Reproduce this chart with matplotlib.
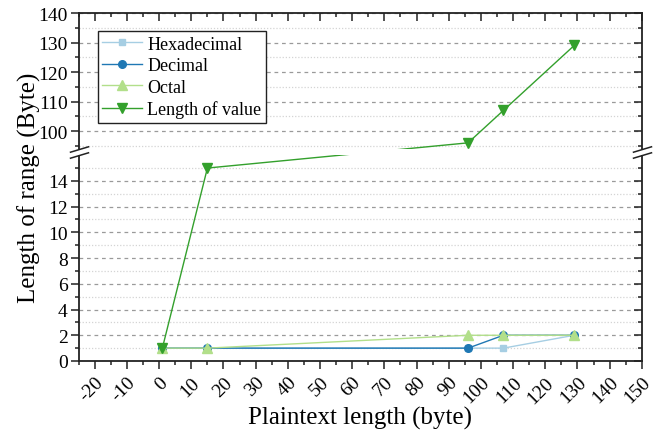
import numpy as np
import matplotlib
matplotlib.use("Agg")
import matplotlib.pyplot as plt
from matplotlib.patches import Rectangle

plt.rcParams["font.family"] = ["Liberation Serif", "DejaVu Serif"]
plt.rcParams["axes.unicode_minus"] = False

# data
plaintext_len = [1, 15, 96, 107, 129]
hexadecimal = [1, 1, 1, 1, 2]
decimal = [1, 1, 1, 2, 2]
octal = [1, 1, 2, 2, 2]
length_of_value = [1, 15, 96, 107, 129]

x_ticks = list(range(-20, 151, 10))
y_ticks = [0, 2, 4, 6, 8, 10, 12, 14, 100, 110, 120, 130, 140]
y_minor = [1, 3, 5, 7, 9, 11, 13, 15, 95, 105, 115, 125, 135]

# broken y axis: 0..L drawn normally, U..140 squeezed on top of a small gap
L, U = 16.0, 94.0
GAP = 0.5
R = 0.2294


def fwd(y):
    y = np.asarray(y, dtype=float)
    return np.where(y <= L, y,
                    np.where(y >= U, L + GAP + (y - U) * R,
                             L + (y - L) / (U - L) * GAP))


def inv(t):
    t = np.asarray(t, dtype=float)
    return np.where(t <= L, t,
                    np.where(t >= L + GAP, U + (t - L - GAP) / R,
                             L + (t - L) / GAP * (U - L)))


fig = plt.figure(figsize=(6.63, 4.39), dpi=100)
pos = [0.1187, 0.1754, 0.8493, 0.7927]
ax = fig.add_axes(pos)
ov = fig.add_axes(pos, sharex=ax, sharey=ax, frameon=False)

ax.set_yscale("function", functions=(fwd, inv))

ax.plot(plaintext_len, hexadecimal, color="#a6cee3", marker="s", ms=5, lw=1, label="Hexadecimal")
ax.plot(plaintext_len, decimal, color="#1f78b4", marker="o", ms=5.5, lw=1, label="Decimal")
ax.plot(plaintext_len, octal, color="#b2df8a", marker="^", ms=7, lw=1, label="Octal")
ax.plot(plaintext_len, length_of_value, color="#33a02c", marker="v", ms=7, lw=1, label="Length of value")

ax.set_xlim(-25, 150)
ax.set_ylim(0, 140)
ax.set_xticks(x_ticks)
ax.set_xticks(list(range(-25, 151, 5)), minor=True)
ax.set_yticks(y_ticks)
ax.set_yticks(y_minor, minor=True)
ax.set_xticklabels([str(v) for v in x_ticks], rotation=45, ha="right", va="top",
                   rotation_mode="anchor")

# grid
ax.set_axisbelow(True)
ax.grid(which="major", axis="y", linestyle=(0, (3, 3)), color="#9a9a9a", lw=0.9)
ax.grid(which="minor", axis="y", linestyle=(0, (1, 1.5)), color="#d4d4d4", lw=0.9)

for s in ax.spines.values():
    s.set_linewidth(1.3)
    s.set_color("#222222")

ax.tick_params(which="both", direction="out", top=False, right=False,
               labelsize=14, width=1.1, color="#222222")
ax.tick_params(which="major", length=6)
ax.tick_params(which="minor", length=3)
ax.tick_params(axis="x", pad=3)
ax.tick_params(axis="y", pad=2)

ov.tick_params(which="both", direction="in", left=False, bottom=False,
               right=True, top=True, labelleft=False, labelbottom=False,
               width=1.1, color="#222222")
ov.tick_params(which="major", length=6)
ov.tick_params(which="minor", length=3)

# white out the break band and draw the // marks
ax.add_patch(Rectangle((-0.03, L), 1.06, U - L, transform=ax.get_yaxis_transform(),
                       facecolor="white", edgecolor="none", zorder=3, clip_on=False))
for xa in (0, 1):
    ax.plot([xa, xa], [L, U], transform=ax.get_yaxis_transform(), linestyle="none",
            marker=[(-1, -0.3), (1, 0.3)], ms=14, mew=1.1, color="#222222",
            clip_on=False, zorder=4)

ax.set_xlabel("Plaintext length (byte)", fontsize=18, labelpad=0)
ax.set_ylabel("Length of range (Byte)", fontsize=18, labelpad=-2)

leg = ax.legend(loc="upper left", bbox_to_anchor=(0.034, 0.948), borderaxespad=0,
                fontsize=13, fancybox=False, framealpha=1, edgecolor="#222222",
                handlelength=2.2, handletextpad=0.3, labelspacing=0.25,
                borderpad=0.25)
leg.get_frame().set_linewidth(1.0)
leg.set_zorder(5)

fig.savefig("out.png", dpi=100)
